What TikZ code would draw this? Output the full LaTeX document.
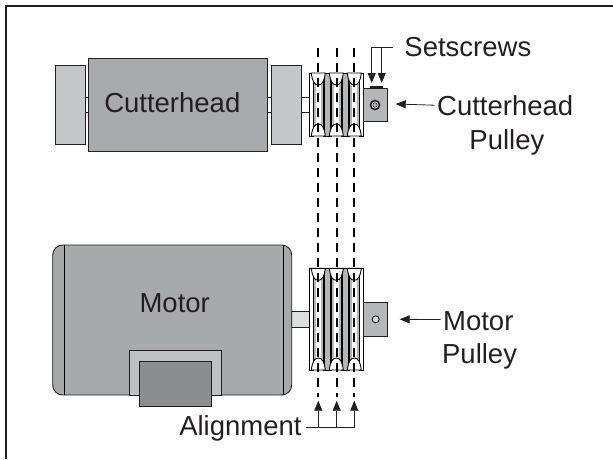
\documentclass[tikz,border=0pt]{standalone}
\usepackage{fontspec}
\setmainfont{Liberation Sans}
\usetikzlibrary{arrows.meta, positioning, calc}
\definecolor{headFill}{HTML}{A9AAAC}
\definecolor{bearingFill}{HTML}{C5C6C8}
\definecolor{motorFill}{HTML}{A8A9AB}
\definecolor{plateFill}{HTML}{BFC0C2}
\definecolor{blockFill}{HTML}{8C8D8F}
\definecolor{shaftFill}{HTML}{DDDEDF}
\definecolor{hubFill}{HTML}{B5B6B8}
\definecolor{textInk}{HTML}{231F20}

\begin{document}
\begin{tikzpicture}[
    x=1pt, y=-1pt,
    line width=0.9pt,
    % Part Styles
    part/.style={
        rectangle,
        draw=textInk,
        outer sep=0pt,
        inner sep=0pt
    },
    % Text Styles
    label/.style={
        inner sep=0pt,
        text=textInk,
        font=\fontsize{27.5}{27.5}\selectfont,
        text height=20pt,
        text depth=5pt
    },
    % Arrow Style
    pointer/.style={
        -{Triangle[length=10pt, width=8pt]},
        draw=textInk,
        line width=0.8pt
    },
    belt/.style={
        draw=black,
        line width=2.2pt,
        dash pattern=on 9pt off 6pt
    }
]
    \useasboundingbox (0,0) rectangle (613,459);

    % --- Frame ---
    \draw[line width=2.4pt, textInk] (6,459) -- (6,6) -- (613,6);

    % --- Cutterhead ---
    \node[part, fill=white, minimum width=224pt, minimum height=15pt] (headshaft) at (197,104.5) {};
    \node[part, fill=bearingFill, minimum width=30.5pt, minimum height=78.5pt] (bearingL) at (70.2,105) {};
    \node[part, fill=bearingFill, minimum width=30.5pt, minimum height=78.5pt] (bearingR) at (286.2,105) {};
    \node[part, fill=headFill, minimum width=179pt, minimum height=93.7pt] (head) at (178.2,105) {};
    \node[label] (headlabel) at (172.3,104.8) {Cutterhead};

    % --- Motor ---
    \node[part, fill=shaftFill, minimum width=18pt, minimum height=15.6pt] (motorshaft) at (300.5,319.5) {};
    \node[part, fill=motorFill, rounded corners=10pt, minimum width=239pt, minimum height=150pt] (motor) at (172.2,320) {};
    \draw (64,245) -- (64,395);
    \draw (283,245) -- (283,395);
    \node[part, fill=plateFill, minimum width=92pt, minimum height=44.3pt] (plate) at (175.3,372.8) {};
    \node[part, fill=blockFill, minimum width=71.7pt, minimum height=44.3pt] (block) at (175.2,383.8) {};
    \node[label] (motorlabel) at (174.7,304.5) {Motor};

    % --- Pulleys ---
    \foreach \ytop/\ybot in {73/136, 268.3/370}{
        \fill[white] (309,\ytop) rectangle (363.3,\ybot);
        % outer flanges
        \draw[fill=white] (309,\ytop) rectangle (313.3,\ybot);
        \draw[fill=white] (359.3,\ytop) rectangle (363.3,\ybot);
        % inner flanges
        \foreach \fx in {327.3, 345.3}{
            \draw[fill=white] (\fx-4,\ytop) rectangle (\fx+4,\ybot);
            \draw[fill=hubFill, line width=0.5pt] (\fx-2.6,\ytop) rectangle (\fx+2.6,\ybot);
        }
        \foreach \cx in {318.3, 336.3, 354.3}{
            % groove
            \fill[hubFill] (\cx-5,\ytop+8) rectangle (\cx+5,\ybot-8);
            \fill[white] (\cx-2.6,\ytop+8) rectangle (\cx+2.6,\ybot-8);
            \draw (\cx-5,\ytop+8) -- (\cx-5,\ybot-8);
            \draw (\cx+5,\ytop+8) -- (\cx+5,\ybot-8);
            % sides of the sheave at both ends
            \draw[fill=white] (\cx-7,\ytop) .. controls (\cx-6,\ytop+8) and (\cx-4,\ytop+12) .. (\cx,\ytop+12)
                .. controls (\cx+4,\ytop+12) and (\cx+6,\ytop+8) .. (\cx+7,\ytop) -- cycle;
            \draw[fill=white] (\cx-7,\ybot) .. controls (\cx-6,\ybot-8) and (\cx-4,\ybot-12) .. (\cx,\ybot-12)
                .. controls (\cx+4,\ybot-12) and (\cx+6,\ybot-8) .. (\cx+7,\ybot) -- cycle;
        }
    }

    % Hubs
    \node[part, fill=hubFill, minimum width=24pt, minimum height=33pt] (headhub) at (375.7,104.5) {};
    \node[part, fill=hubFill, minimum width=24pt, minimum height=33.3pt] (motorhub) at (375.7,319.3) {};
    \node[part, fill=textInk, minimum width=12pt, minimum height=1.5pt] (screwtop) at (376,87.4) {};
    \node[circle, draw=textInk, fill=white, line width=1.6pt, minimum size=9pt, inner sep=0pt] (screwfront) at (375,105) {};
    \node[circle, draw=textInk, fill=hubFill, line width=0.6pt, minimum size=4.5pt, inner sep=0pt] (screwcore) at (375,105) {};
    \node[circle, draw=textInk, fill=hubFill!50, minimum size=7pt, inner sep=0pt] (motorscrew) at (375.7,319.3) {};

    % --- Belts ---
    \coordinate (beltAtop) at (318.3,48);
    \coordinate (beltBtop) at (336.7,48);
    \coordinate (beltCtop) at (354.3,48);
    \coordinate (beltAbot) at (318.3,397);
    \coordinate (beltBbot) at (336.7,397);
    \coordinate (beltCbot) at (354.3,397);
    \draw[belt] (beltAtop) -- (beltAbot);
    \draw[belt] (beltBtop) -- (beltBbot);
    \draw[belt] (beltCtop) -- (beltCbot);

    % --- Labels ---
    \node[label, anchor=west] (setscrews) at (404,49.2) {Setscrews};
    \node[label, anchor=west] (headpulleyA) at (436.7,108.2) {Cutterhead};
    \node[label, anchor=west] (headpulleyB) at (469,141.5) {Pulley};
    \node[label, anchor=west] (motorpulleyA) at (442.7,322.5) {Motor};
    \node[label, anchor=west] (motorpulleyB) at (441.7,355.8) {Pulley};
    \node[label, anchor=east] (alignment) at (302,427.7) {Alignment};

    % --- Leaders ---
    \coordinate (screwA) at (371.7,83);
    \coordinate (screwB) at (381.7,83);
    \coordinate (alignA) at (318.3,400.7);
    \coordinate (alignB) at (336.7,400.7);
    \coordinate (alignC) at (354.3,400.7);

    \draw[pointer] ([shift={(-11pt,2pt)}]setscrews.west) -| (screwA);
    \draw[pointer] (screwB |- 0,47.3) -- (screwB);
    \draw[pointer] ([shift={(-2pt,3pt)}]headpulleyA.west) -- ([shift={(8pt,0.5pt)}]headhub.east);
    \draw[pointer] ([shift={(-2pt,3pt)}]motorpulleyA.west) -- ([xshift=12pt]motorhub.east);
    \draw[pointer] ([xshift=4pt]alignment.east) -| (alignC);
    \draw[pointer] (alignA |- alignment.east) -- (alignA);
    \draw[pointer] (alignB |- alignment.east) -- (alignB);
\end{tikzpicture}
\end{document}
